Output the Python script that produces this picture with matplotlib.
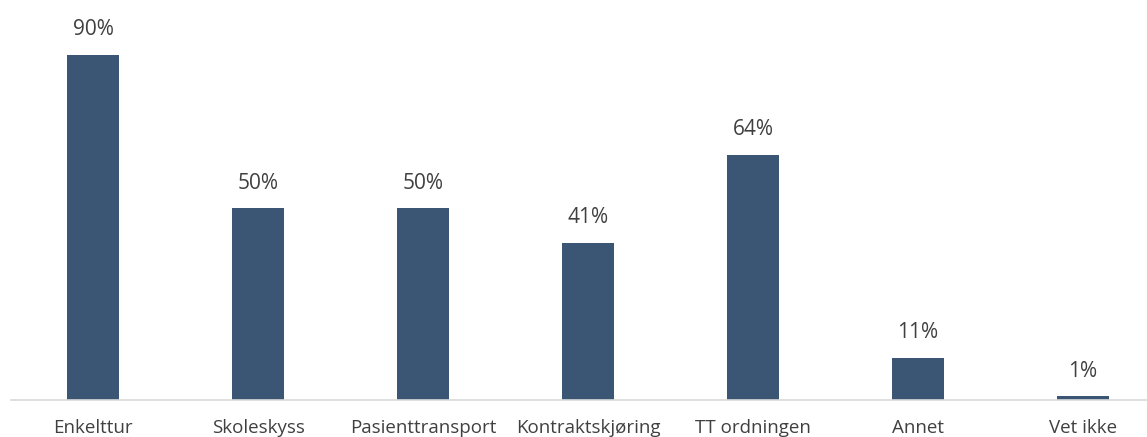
import matplotlib
matplotlib.use("Agg")
import matplotlib.pyplot as plt

categories = ["Enkelttur", "Skoleskyss", "Pasienttransport", "Kontraktskjøring",
              "TT ordningen", "Annet", "Vet ikke"]
values = [90, 50, 50, 41, 64, 11, 1]

BAR_COLOR = "#3a5674"
TEXT_COLOR = "#404040"

plt.rcParams["font.family"] = ["Open Sans", "DejaVu Sans"]

W, H = 1147, 437
fig = plt.figure(figsize=(W / 100, H / 100), dpi=100)
fig.patch.set_facecolor("white")

# axes runs past the right edge, like the cropped original
ax = fig.add_axes([10.5 / W, 37 / H, 1155 / W, 383.3 / H])
x = range(len(categories))
bars = ax.bar(x, values, width=0.315, color=BAR_COLOR)

for bar, val in zip(bars, values):
    ax.text(bar.get_x() + bar.get_width() / 2, val + 3.8, f"{val}%",
            ha="center", va="bottom", color=TEXT_COLOR, fontsize=15)

ax.set_xlim(-0.5, len(categories) - 0.5)
ax.set_ylim(0, 100)
ax.set_xticks(list(x))
ax.set_xticklabels(categories, color=TEXT_COLOR, fontsize=13.5)
ax.tick_params(axis="x", length=0, pad=14)
ax.set_yticks([])
for side in ["top", "right", "left"]:
    ax.spines[side].set_visible(False)
ax.spines["bottom"].set_color("#d9d9d9")
ax.spines["bottom"].set_linewidth(1.2)

fig.savefig("out.png", dpi=100, facecolor=fig.get_facecolor())
